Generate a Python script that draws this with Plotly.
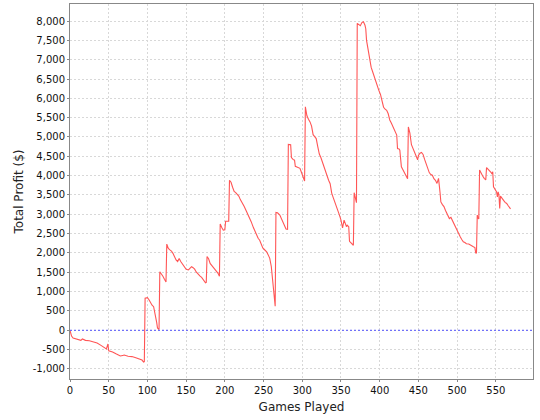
import plotly.graph_objects as go

games = [0, 2, 4, 8, 12, 14, 16, 20, 25, 30, 35, 40, 44, 47, 48, 49, 50, 55, 60, 65, 68, 70, 75, 80, 85, 90, 93, 95, 96,
         97, 100, 102, 104, 106, 108, 110, 111, 112, 113, 115,
         116, 118, 120, 122, 124, 125, 127, 129, 131, 133, 135, 137, 139, 141, 143, 145, 148, 150, 153, 155, 157, 159,
         161, 163, 165, 168, 170, 173, 175, 176, 177, 179, 181, 183, 185, 187, 189, 191, 193, 194, 196, 198, 200, 201,
         203, 205, 206, 208, 210, 212, 214, 216, 218, 220, 222, 225, 228, 231, 234, 237, 239, 241, 243, 245, 247, 249,
         251, 254, 256, 258, 260, 261, 262, 263, 264, 265, 266, 268, 271, 273, 275, 277, 279, 281, 282, 285, 286, 288,
         290, 291, 294, 297, 299, 301, 303, 304, 306, 308, 310, 312, 314, 316, 318, 320, 322, 324, 326, 328, 330, 332,
         334, 336, 338, 340, 342, 344, 346, 348, 350, 352, 354, 355, 357, 358, 360, 361, 363, 366, 367, 369, 370, 371,
         373, 375, 377, 379, 381, 382, 383, 385, 387, 389, 391, 393, 395, 397, 399, 401, 403, 405, 407, 409, 411, 413,
         415, 417, 419, 421, 422, 423, 425, 426, 428, 430, 432, 434, 436, 437, 439, 441, 443, 445, 447, 449, 450, 452,
         454, 456, 458, 460, 462, 464, 466, 468, 470, 472, 474, 476, 478, 479, 481, 483, 485, 487, 489, 490, 492, 494,
         496, 498, 500, 502, 504, 506, 508, 510, 512, 515, 517, 519, 521, 523, 524, 525, 526, 527, 528, 529, 531, 533,
         535, 537, 538, 540, 542, 544, 545, 546, 547, 549, 551, 552, 553, 554, 555, 556, 558, 560, 562, 564, 566, 568, 569]

profit = [0, -150, -200, -220, -235, -260, -225, -260, -270, -300, -330, -390, -440, -480, -420, -355, -530, -560, -615,
          -665, -650, -640, -670, -680, -710, -740, -770, -820, -810,
          830, 845, 790, 700, 650, 610, 430, 330, 200, 60, 20,
          1515, 1470, 1400, 1320, 1250, 2230, 2120, 2080, 2050, 1990, 1900, 1820, 1780, 1860, 1780, 1720, 1610, 1580,
          1560, 1620, 1645, 1620, 1580, 1510, 1460, 1400, 1370, 1300, 1230, 1240, 1905, 1850, 1730, 1680, 1630, 1600,
          1560, 1480, 1400, 2750, 2660, 2590, 2600, 2820, 2820, 2820, 3880, 3830, 3700, 3590, 3560, 3510, 3470, 3380,
          3320, 3200, 3070, 2950, 2810, 2650, 2550, 2450, 2380, 2330, 2220, 2130, 2090, 2030, 1950, 1860, 1650, 1400,
          1300, 1000, 700, 620, 3050, 3040, 2980, 2880, 2770, 2680, 2620, 2610, 4810, 4800, 4470, 4420, 4400, 4240,
          4210, 4190, 4080, 3960, 3860, 5780, 5550, 5460, 5390, 5280, 5060, 5010, 4960, 4750, 4560, 4470, 4350, 4200,
          4070, 3980, 3880, 3790, 3550, 3430, 3330, 3230, 3110, 2980, 2850, 2650, 2850, 2800, 2680, 2720, 2680, 2300,
          2260, 2200, 3560, 3330, 3300, 7940, 7920, 7880, 7960, 7980, 7890, 7800, 7500, 7250, 7030, 6800, 6680, 6550,
          6420, 6300, 6200, 6100, 5900, 5770, 5720, 5690, 5600, 5440, 5360, 5280, 5200, 5100, 5050, 4700, 4690, 4660,
          4230, 4150, 4070, 3990, 3920, 5260, 5100, 4800, 4700, 4620, 4490, 4410, 4520, 4580, 4600, 4550, 4420, 4300,
          4150, 4080, 4030, 4010, 3920, 3880, 3800, 3930, 3550, 3320, 3250, 3200, 3100, 3020, 2920, 2890, 2920, 2830,
          2760, 2680, 2590, 2500, 2420, 2350, 2290, 2270, 2240, 2230, 2200, 2180, 2160, 2140, 2000, 2000, 2980, 2900,
          2880, 4145, 4040, 3990, 3930, 3890, 4210, 4170, 4140, 4080, 4040, 4100, 3710, 3650, 3580, 3450, 3580, 3500,
          3150, 3470, 3400, 3360, 3310, 3280, 3220, 3160, 3140]

x_ticks = list(range(0, 551, 50))
y_ticks = list(range(-1000, 8001, 500))
y_tick_labels = [f"{v:,}" for v in y_ticks]

fig = go.Figure()
fig.add_trace(go.Scatter(x=games, y=profit, mode="lines",
                         line=dict(color="#FF5555", width=1.1), hoverinfo="skip", showlegend=False))

fig.add_shape(type="line", xref="paper", yref="y", x0=0, x1=1, y0=0, y1=0,
              line=dict(color="#5555FF", width=1, dash="2px,2px"))

grid = "#D8D8D8"
fig.update_layout(
    width=540, height=420,
    margin=dict(l=70, r=7, t=4, b=41),
    paper_bgcolor="white", plot_bgcolor="white",
    font=dict(family="DejaVu Sans", size=10, color="#111111"),
    xaxis=dict(range=[0, 598], tickvals=x_ticks, ticktext=[str(v) for v in x_ticks],
               showgrid=True, gridcolor=grid, griddash="2px,2px", gridwidth=1,
               showline=True, linecolor="#888888", linewidth=1, mirror=True,
               ticks="outside", ticklen=2, tickcolor="#888888", zeroline=False, automargin=False,
               title=dict(text="Games Played", font=dict(size=12, color="#222222"), standoff=7),
               tickfont=dict(size=10, color="#111111")),
    yaxis=dict(range=[-1260, 8440], tickvals=y_ticks, ticktext=y_tick_labels,
               showgrid=True, gridcolor=grid, griddash="2px,2px", gridwidth=1,
               showline=True, linecolor="#888888", linewidth=1, mirror=True,
               ticks="outside", ticklen=2, tickcolor="#888888", zeroline=False, automargin=False,
               title=dict(text="Total Profit ($)", font=dict(size=12, color="#222222"), standoff=6),
               tickfont=dict(size=10, color="#111111")),
)

fig.write_html("out.html", config={"displayModeBar": False},
               post_script="document.body.style.margin='0';")
